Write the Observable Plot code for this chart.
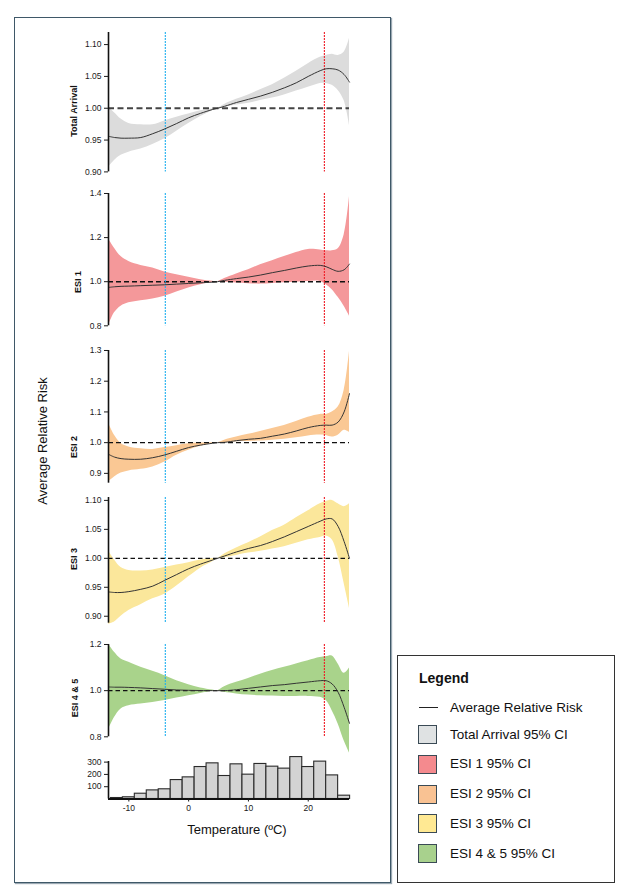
<!DOCTYPE html>
<html>
<head>
<meta charset="utf-8">
<script src="https://cdn.jsdelivr.net/npm/d3@7"></script>
<script src="https://cdn.jsdelivr.net/npm/@observablehq/plot@0.6"></script>
<style>
  body { margin: 0; background: #fff; }
  #root { position: relative; width: 628px; height: 890px; overflow: hidden; font-family: "Liberation Sans", Arial, Helvetica, sans-serif; color: #111; }
  .outer { position: absolute; left: 14px; top: 17px; width: 377px; height: 866px; box-sizing: border-box; border: 1.6px solid #3f5868; box-shadow: 1px 1px 1px #9aa8b2; }
  .rot { position: absolute; transform: translate(-50%, -50%) rotate(-90deg); white-space: nowrap; }
  .plab { font-size: 9px; font-weight: bold; }
  .legend { position: absolute; left: 397px; top: 655px; width: 218px; height: 228px; box-sizing: border-box; border: 1.6px solid #333; background: #fff; }
  .legend .item { position: absolute; left: 52px; height: 20px; line-height: 20px; font-size: 13.5px; white-space: nowrap; color: #111; }
  .legend .sw { position: absolute; left: 20px; width: 19px; height: 19px; box-sizing: border-box; border: 1px solid #3a4a55; }
  .legend .ln { position: absolute; left: 21px; width: 19px; height: 0; border-top: 1.5px solid #222; }
  .legend .ttl { position: absolute; left: 21px; top: 12px; height: 20px; line-height: 20px; font-size: 14px; font-weight: bold; }
</style>
</head>
<body>
<div id="root">
  <div class="outer"></div>
</div>
<script>
// ---------------- data ----------------
const temps = [-13.4, -12.4, -11.3, -10, -8, -6, -4, -2, 0, 2, 4, 4.85, 6, 8, 10, 12, 14, 16, 18, 20, 22, 23, 24, 25, 26, 26.9];

const totalMean  = [0.956, 0.954, 0.953, 0.953, 0.954, 0.960, 0.9675, 0.976, 0.985, 0.992, 0.998, 1.0, 1.003, 1.009, 1.014, 1.019, 1.025, 1.032, 1.040, 1.050, 1.059, 1.062, 1.062, 1.060, 1.053, 1.041];
const totalUpper = [1.002, 0.993, 0.983, 0.976, 0.974, 0.974, 0.980, 0.986, 0.991, 0.996, 0.999, 1.0, 1.006, 1.014, 1.021, 1.029, 1.037, 1.047, 1.058, 1.070, 1.080, 1.083, 1.085, 1.083, 1.088, 1.110];
const totalLower = [0.907, 0.918, 0.926, 0.931, 0.936, 0.943, 0.952, 0.964, 0.976, 0.987, 0.996, 1.0, 1.0015, 1.005, 1.008, 1.012, 1.016, 1.021, 1.027, 1.033, 1.039, 1.039, 1.036, 1.028, 1.012, 0.973];

const esi1Mean  = [0.974, 0.977, 0.979, 0.980, 0.982, 0.984, 0.986, 0.989, 0.992, 0.995, 0.998, 1.0, 1.006, 1.014, 1.021, 1.030, 1.041, 1.051, 1.062, 1.071, 1.074, 1.068, 1.056, 1.047, 1.054, 1.080];
const esi1Upper = [1.195, 1.152, 1.114, 1.092, 1.074, 1.062, 1.044, 1.032, 1.020, 1.009, 1.002, 1.0, 1.014, 1.035, 1.054, 1.077, 1.095, 1.114, 1.132, 1.146, 1.144, 1.140, 1.140, 1.149, 1.212, 1.385];
const esi1Lower = [0.800, 0.859, 0.889, 0.904, 0.914, 0.922, 0.934, 0.953, 0.971, 0.986, 0.997, 1.0, 0.997, 0.994, 0.991, 0.989, 0.992, 0.995, 0.998, 1.001, 1.001, 0.986, 0.964, 0.929, 0.889, 0.844];

const esi2Mean  = [0.962, 0.953, 0.948, 0.946, 0.946, 0.951, 0.960, 0.972, 0.984, 0.992, 0.998, 1.0, 1.001, 1.0065, 1.011, 1.014, 1.021, 1.028, 1.038, 1.049, 1.056, 1.057, 1.057, 1.067, 1.100, 1.160];
const esi2Upper = [1.064, 1.024, 0.997, 0.986, 0.980, 0.978, 0.984, 0.990, 0.996, 0.999, 1.0, 1.0, 1.008, 1.018, 1.027, 1.036, 1.046, 1.056, 1.069, 1.083, 1.092, 1.092, 1.100, 1.116, 1.170, 1.297];
const esi2Lower = [0.872, 0.888, 0.901, 0.908, 0.913, 0.921, 0.937, 0.959, 0.975, 0.988, 0.997, 1.0, 1.0, 1.003, 1.004, 1.005, 1.008, 1.011, 1.016, 1.022, 1.025, 1.023, 1.018, 1.024, 1.040, 1.033];

const esi3Mean  = [0.942, 0.941, 0.941, 0.9425, 0.9465, 0.952, 0.962, 0.972, 0.982, 0.990, 0.997, 1.0, 1.004, 1.011, 1.017, 1.022, 1.029, 1.037, 1.046, 1.055, 1.064, 1.068, 1.068, 1.055, 1.029, 1.0];
const esi3Upper = [1.013, 0.997, 0.984, 0.979, 0.978, 0.980, 0.984, 0.9885, 0.9925, 0.997, 0.9995, 1.0, 1.0075, 1.018, 1.027, 1.037, 1.048, 1.057, 1.070, 1.082, 1.094, 1.098, 1.100, 1.094, 1.089, 1.094];
const esi3Lower = [0.886, 0.890, 0.900, 0.910, 0.920, 0.930, 0.938, 0.952, 0.968, 0.983, 0.994, 1.0, 1.001, 1.005, 1.009, 1.012, 1.016, 1.020, 1.026, 1.032, 1.036, 1.0385, 1.032, 1.003, 0.957, 0.914];

const esi45Mean  = [1.016, 1.015, 1.015, 1.014, 1.012, 1.009, 1.006, 1.003, 1.0015, 1.0005, 1.0, 1.0, 1.0, 1.004, 1.010, 1.016, 1.022, 1.026, 1.032, 1.0375, 1.043, 1.043, 1.029, 0.993, 0.928, 0.858];
const esi45Upper = [1.202, 1.166, 1.137, 1.123, 1.101, 1.084, 1.065, 1.043, 1.026, 1.012, 1.003, 1.0, 1.017, 1.036, 1.053, 1.071, 1.087, 1.101, 1.116, 1.130, 1.144, 1.147, 1.150, 1.116, 1.075, 1.098];
const esi45Lower = [0.831, 0.884, 0.921, 0.935, 0.942, 0.949, 0.957, 0.968, 0.978, 0.988, 0.997, 1.0, 0.993, 0.986, 0.981, 0.978, 0.977, 0.975, 0.975, 0.975, 0.971, 0.957, 0.913, 0.856, 0.783, 0.730];

const histBinStart = [-13, -11, -9, -7, -5, -3, -1, 1, 3, 5, 7, 9, 11, 13, 15, 17, 19, 21, 23, 25];
const histCounts   = [8, 14, 43, 70, 79, 154, 176, 260, 290, 187, 282, 198, 285, 263, 247, 341, 260, 304, 192, 27];
const binWidth = 2;

const coldThreshold = -3.9;
const hotThreshold = 22.7;
const refValue = 1.0;
const xDomain = [-13.4, 26.9];

const panelNames = ["Total Arrival", "ESI 1", "ESI 2", "ESI 3", "ESI 4 & 5"];
const yTicks = [
  [0.90, 0.95, 1.00, 1.05, 1.10],
  [0.8, 1.0, 1.2, 1.4],
  [0.9, 1.0, 1.1, 1.2, 1.3],
  [0.90, 0.95, 1.00, 1.05, 1.10],
  [0.8, 1.0, 1.2]
];
const histTicksY = [100, 200, 300];
const histTicksX = [-10, 0, 10, 20];

const legendLabels = ["Average Relative Risk", "Total Arrival 95% CI", "ESI 1 95% CI", "ESI 2 95% CI", "ESI 3 95% CI", "ESI 4 & 5 95% CI"];

// ---------------- styles / layout ----------------
const bandColors   = ["#dcdcdc", "#f4989a", "#fac894", "#fbe79b", "#a9d38b"];
const legendColors = ["#dfe2e3", "#f48a8e", "#f9c293", "#ffe993", "#a8d18d"];
const FONT = '"Liberation Sans", Arial, Helvetica, sans-serif';

const panelLayout = [
  {domain: [0.90, 1.119], fmt: ".2f", top: 31.9,  bottom: 171.3, lx: 74,   ly: 111, ref: "#444", refW: 1.8, dash: "6,3.5"},
  {domain: [0.8, 1.4],    fmt: ".1f", top: 192.7, bottom: 325,   lx: 78.3, ly: 282, ref: "#111", refW: 1.5, dash: "5,3"},
  {domain: [0.868, 1.3],  fmt: ".1f", top: 350.3, bottom: 483,   lx: 74,   ly: 447, ref: "#111", refW: 1.4, dash: "5,3"},
  {domain: [0.888, 1.105],fmt: ".2f", top: 497.1, bottom: 622.8, lx: 74,   ly: 559, ref: "#111", refW: 1.3, dash: "4.5,3"},
  {domain: [0.8, 1.2],    fmt: ".1f", top: 643.7, bottom: 736,   lx: 74.5, ly: 698, ref: "#111", refW: 1.3, dash: "4.5,3"}
];

const series = [
  [totalMean, totalLower, totalUpper],
  [esi1Mean, esi1Lower, esi1Upper],
  [esi2Mean, esi2Lower, esi2Upper],
  [esi3Mean, esi3Lower, esi3Upper],
  [esi45Mean, esi45Lower, esi45Upper]
];

const root = document.getElementById("root");

function place(el, top) {
  el.style.position = "absolute";
  el.style.left = "0px";
  el.style.top = top + "px";
  root.appendChild(el);
}
function rotLabel(text, cx, cy, cls, size) {
  const d = document.createElement("div");
  d.className = "rot " + (cls || "");
  d.textContent = text;
  d.style.left = cx + "px";
  d.style.top = cy + "px";
  if (size) d.style.fontSize = size + "px";
  root.appendChild(d);
}

const W = 360, ML = 108, MR = 11;
const tickStyle = {fontFamily: FONT, fontSize: "8.5px", background: "transparent", overflow: "visible", color: "#1a1a1a"};

series.forEach(([mean, lo, hi], i) => {
  const L = panelLayout[i];
  const mt = 10, mb = 24;
  const data = temps.map((t, k) => ({t, mean: mean[k], lo: lo[k], hi: hi[k]}));
  const chart = Plot.plot({
    width: W,
    height: (L.bottom - L.top) + mt + mb,
    marginLeft: ML, marginRight: MR, marginTop: mt, marginBottom: mb,
    style: tickStyle,
    x: {domain: xDomain, axis: null},
    y: {domain: L.domain, axis: null},
    marks: [
      Plot.areaY(data, {x: "t", y1: "lo", y2: "hi", fill: bandColors[i], curve: "catmull-rom"}),
      Plot.ruleY([refValue], {stroke: L.ref, strokeWidth: L.refW, strokeDasharray: L.dash}),
      Plot.ruleX([coldThreshold], {stroke: "#1fb0ef", strokeWidth: 1.1, strokeDasharray: "2,1"}),
      Plot.ruleX([hotThreshold], {stroke: "#ee1c25", strokeWidth: 1.1, strokeDasharray: "2,1"}),
      Plot.lineY(data, {x: "t", y: "mean", stroke: "#333", strokeWidth: 1, curve: "catmull-rom"}),
      Plot.ruleX([xDomain[0]], {stroke: "#111", strokeWidth: 1.6}),
      Plot.axisY({ticks: yTicks[i], tickFormat: d3.format(L.fmt), tickSize: 4, tickPadding: 3, label: null})
    ]
  });
  place(chart, L.top - mt);
  rotLabel(panelNames[i], L.lx, L.ly, "plab");
});

// histogram
{
  const top = 761, bottom = 798.5, mt = 12, mb = 22;
  const histData = histBinStart.map((x, k) => ({x1: x, x2: x + binWidth, n: histCounts[k]}));
  const chart = Plot.plot({
    width: W,
    height: (bottom - top) + mt + mb,
    marginLeft: ML, marginRight: MR, marginTop: mt, marginBottom: mb,
    style: tickStyle,
    x: {domain: xDomain},
    y: {domain: [0, 305]},
    marks: [
      Plot.rectY(histData, {x1: "x1", x2: "x2", y: "n", fill: "#d3d3d3", stroke: "#2a2a2a", strokeWidth: 1.1, inset: 0}),
      Plot.ruleY([0], {stroke: "#111", strokeWidth: 1.8}),
      Plot.ruleX([xDomain[0]], {stroke: "#111", strokeWidth: 1.6}),
      Plot.axisY({ticks: histTicksY, tickSize: 4, tickPadding: 3, label: null}),
      Plot.axisX({ticks: histTicksX, tickFormat: d => String(d), tickSize: 3, tickPadding: 3, label: null})
    ]
  });
  place(chart, top - mt);
}

// titles
rotLabel("Average Relative Risk", 42, 441, "", 13);
{
  const d = document.createElement("div");
  d.textContent = "Temperature (ºC)";
  d.style.cssText = "position:absolute;left:237px;top:829px;transform:translate(-50%,-50%);font-size:13px;white-space:nowrap;";
  root.appendChild(d);
}

// legend
{
  const lg = document.createElement("div");
  lg.className = "legend";
  const ttl = document.createElement("div");
  ttl.className = "ttl"; ttl.textContent = "Legend";
  lg.appendChild(ttl);
  const ln = document.createElement("div");
  ln.className = "ln"; ln.style.top = "51px";
  lg.appendChild(ln);
  const t0 = document.createElement("div");
  t0.className = "item"; t0.style.top = "41.5px"; t0.textContent = legendLabels[0];
  lg.appendChild(t0);
  legendColors.forEach((c, k) => {
    const y = 69 + k * 29.8;
    const sw = document.createElement("div");
    sw.className = "sw"; sw.style.top = y + "px"; sw.style.background = c;
    lg.appendChild(sw);
    const t = document.createElement("div");
    t.className = "item"; t.style.top = (y - 0.5) + "px"; t.textContent = legendLabels[k + 1];
    lg.appendChild(t);
  });
  root.appendChild(lg);
}
</script>
</body>
</html>
